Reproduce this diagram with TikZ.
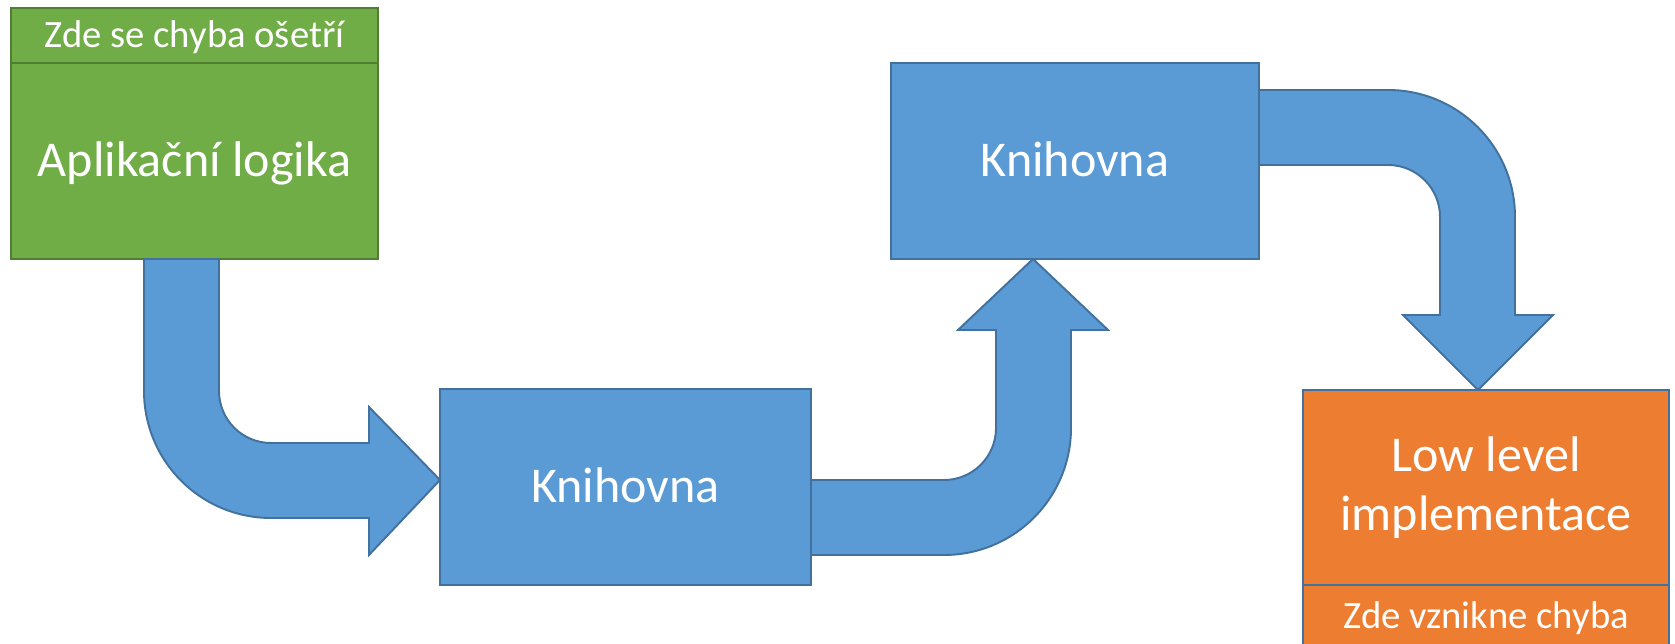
\documentclass[tikz,border=0pt]{standalone}
\usepackage{fontspec}
\setmainfont{Carlito}
\usetikzlibrary{positioning}
\definecolor{boxblue}{HTML}{5B9BD5}
\definecolor{edgeblue}{HTML}{41719C}
\definecolor{boxgreen}{HTML}{70AD47}
\definecolor{edgegreen}{HTML}{507E32}
\definecolor{boxorange}{HTML}{ED7D31}
\begin{document}
\begin{tikzpicture}[x=0.02cm, y=0.02cm, line width=1.1pt,
    box/.style={draw, inner sep=0pt, outer sep=0pt, text=white, align=center},
    bigtext/.style={font=\fontsize{28.5}{33.5}\selectfont},
    smalltext/.style={font=\fontsize{22}{26}\selectfont},
    bigline/.style={bigtext, text height=18pt, text depth=0pt},
    smallline/.style={smalltext, text height=13.9pt, text depth=0pt},
    greenbox/.style={box, fill=boxgreen, draw=edgegreen, minimum width=7.34cm},
    bluebox/.style={box, fill=boxblue, draw=edgeblue, minimum height=3.92cm, bigline},
    orangebox/.style={box, fill=boxorange, draw=edgeblue, minimum width=7.32cm},
    bentarrow/.style={fill=boxblue, draw=edgeblue, line join=miter}]
\useasboundingbox (0,0) rectangle (1675,644);

\node[greenbox, minimum height=3.92cm, bigline] (app) at (194.5,483) {Aplikační logika};
\node[greenbox, minimum height=1.1cm, smallline, above=0pt of app] (appnote) {Zde se chyba ošetří};

\node[bluebox, minimum width=7.42cm] (lib1) at (625.5,157) {Knihovna};
\node[bluebox, minimum width=7.36cm] (lib2) at (1075,483) {Knihovna};

\node[orangebox, minimum height=3.9cm, bigtext] (low) at (1486,156.5) {Low level\\implementace};
\node[orangebox, minimum height=1.24cm, smallline, below=0pt of low] (lownote) {Zde vznikne chyba};

\draw[bentarrow] (144,385) -- (219,385) -- (219,253) arc[start angle=180, end angle=270, radius=52]
    -- (369,201) -- (369,237) -- (440,164) -- (369,89) -- (369,126) -- (271,126)
    arc[start angle=270, end angle=180, radius=127] -- cycle;
\draw[bentarrow] (811,164) -- (944,164) arc[start angle=270, end angle=360, radius=52]
    -- (996,314) -- (958,314) -- (1033,385) -- (1108,314) -- (1071,314) -- (1071,216)
    arc[start angle=0, end angle=-90, radius=127] -- (811,89) -- cycle;
\draw[bentarrow] (1259,554) -- (1388,554) arc[start angle=90, end angle=0, radius=127]
    -- (1515,329) -- (1553,329) -- (1478,254) -- (1403,329) -- (1440,329) -- (1440,427)
    arc[start angle=0, end angle=90, radius=52] -- (1259,479) -- cycle;
\end{tikzpicture}
\end{document}
